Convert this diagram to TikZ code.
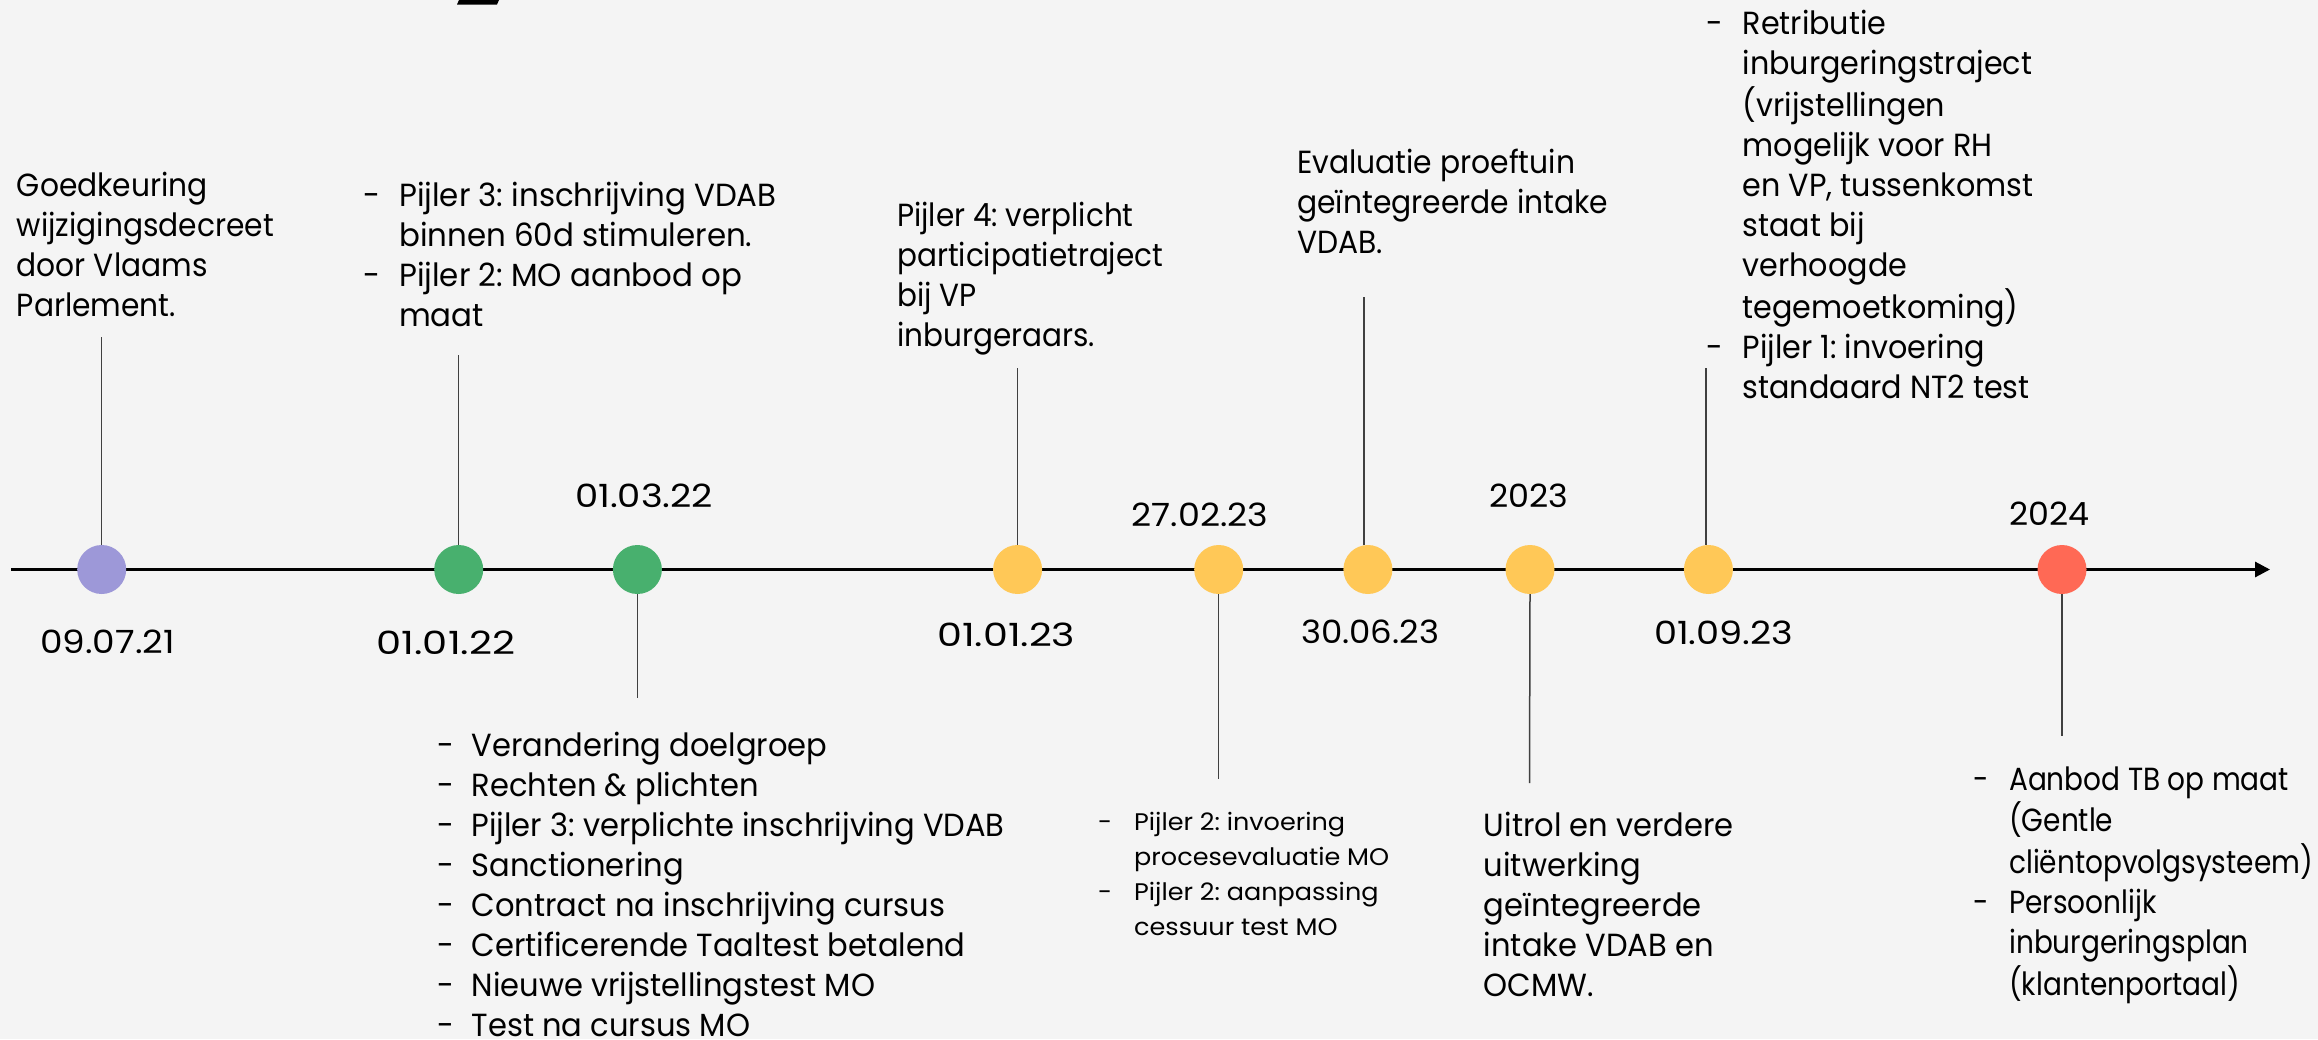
\documentclass[tikz,border=0pt]{standalone}
\usepackage{fontspec}
\usepackage{graphicx}
\setmainfont{Poppins}
\usetikzlibrary{arrows.meta}
\definecolor{bgc}{HTML}{F4F4F4}
\definecolor{cpurple}{HTML}{9D98D8}
\definecolor{cgreen}{HTML}{48B06E}
\definecolor{cyellow}{HTML}{FFC857}
\definecolor{cred}{HTML}{FF6955}
\newlength\natw
% fit block: optional dash gap, target width (px), reference line
\newcommand{\setsx}[3][36]{\settowidth{\natw}{#3}\pgfmathsetmacro{\sx}{#2/\natw}\pgfmathsetmacro{\dw}{#1/\sx}}
\newcommand{\dd}{\makebox[\dw pt][l]{-}}
\newcommand{\fitw}[2]{\settowidth{\natw}{#2}\pgfmathsetmacro{\sx}{#1/\natw}\scalebox{\sx}[1]{#2}}
\newcommand{\blk}[1]{\scalebox{\sx}[1]{\begin{tabular}[t]{@{}l@{}l@{}}#1\end{tabular}}}
\tikzset{
  dot/.style={circle, minimum size=49pt, inner sep=0pt, draw=none},
  txt/.style={anchor=base west, inner sep=0pt, font=\fontsize{32}{40}\selectfont},
  smalltxt/.style={txt, font=\fontsize{24}{35}\selectfont},
  conn/.style={draw=black!75, line width=1.5pt},
  axis/.style={draw=black, line width=3pt, -{Triangle[length=15pt,width=15pt]}}
}
\begin{document}
\frenchspacing
\begin{tikzpicture}[x=1pt,y=-1pt]
\fill[bgc] (0,0) rectangle (2318,1039);
\useasboundingbox (0,0) rectangle (2318,1039);
\fill[black] (457,4.5) -- (459,0) -- (499,0) -- (497,4.5) -- cycle;
% axis
\coordinate (axs) at (11,569.5);
\coordinate (axe) at (2270,569.5);
\draw[axis] (axs) -- (axe);
% dots
\node[dot, fill=cpurple] (c1) at (101.7,569.5) {};
\node[dot, fill=cgreen]  (c2) at (458.7,569.5) {};
\node[dot, fill=cgreen]  (c3) at (637.4,569.5) {};
\node[dot, fill=cyellow] (c4) at (1017.6,569.5) {};
\node[dot, fill=cyellow] (c5) at (1218.7,569.5) {};
\node[dot, fill=cyellow] (c6) at (1367.9,569.5) {};
\node[dot, fill=cyellow] (c7) at (1530,569.5) {};
\node[dot, fill=cyellow] (c8) at (1708.4,569.5) {};
\node[dot, fill=cred]    (c9) at (2062,569.5) {};
% connector ends
\coordinate (e1) at (101.7,337);
\coordinate (e2) at (458.7,355);
\coordinate (e3) at (637.4,698);
\coordinate (e4) at (1017.6,368);
\coordinate (e5) at (1218.7,779);
\coordinate (e6) at (1364,297);
\coordinate (e7) at (1529.5,783);
\coordinate (e8) at (1706,368);
\coordinate (e9) at (2062,736);
\draw[conn] (c1.north) -- (e1);
\draw[conn] (c2.north) -- (e2);
\draw[conn] (c3.south) -- (e3);
\draw[conn] (c4.north) -- (e4);
\draw[conn] (c5.south) -- (e5);
\draw[conn] (e6 |- c6.north) -- (e6);
\draw[conn] (c7.south) -- (e7);
\draw[conn] (e8 |- c8.north) -- (e8);
\draw[conn] (c9.south) -- (e9);
% dates
\node[txt] (d1) at (40,653) {\fitw{134.5}{09.07.21}};
\node[txt] (d2) at (376.5,654) {\fitw{138.5}{01.01.22}};
\node[txt] (d3) at (575,507) {\fitw{138}{01.03.22}};
\node[txt] (d4) at (937,646) {\fitw{138}{01.01.23}};
\node[txt] (d5) at (1131.6,526) {\fitw{136.5}{27.02.23}};
\node[txt] (d6) at (1301,643) {\fitw{138}{30.06.23}};
\node[txt] (d7) at (1489,507) {\fitw{79}{2023}};
\node[txt] (d8) at (1654,644) {\fitw{139}{01.09.23}};
\node[txt] (d9) at (2009,525) {\fitw{80}{2024}};
% texts
\node[txt] (tA) at (16.7,196) {\setsx{257}{wijzigingsdecreet}\blk{Goedkeuring\\wijzigingsdecreet\\door Vlaams\\Parlement.}};
\node[txt] (tB) at (363,206) {\setsx{377.5}{Pijler 3: inschrijving VDAB}\blk{\dd & Pijler 3: inschrijving VDAB\\ & binnen 60d stimuleren.\\ \dd & Pijler 2: MO aanbod op\\ & maat}};
\node[txt] (tC) at (437,756) {\setsx[34.4]{533}{Pijler 3: verplichte inschrijving VDAB}\blk{\dd & Verandering doelgroep\\ \dd & Rechten \& plichten\\ \dd & Pijler 3: verplichte inschrijving VDAB\\ \dd & Sanctionering\\ \dd & Contract na inschrijving cursus\\ \dd & Certificerende Taaltest betalend\\ \dd & Nieuwe vrijstellingstest MO\\ \dd & Test na cursus MO}};
\node[txt] (tD) at (897,226) {\setsx{266}{participatietraject}\blk{Pijler 4: verplicht\\participatietraject\\bij VP\\inburgeraars.}};
\node[txt] (tE) at (1297,173) {\setsx{278}{Evaluatie proeftuin}\blk{Evaluatie proeftuin\\geïntegreerde intake\\VDAB.}};
\node[smalltxt] (tF) at (1098,830) {\setsx{255}{procesevaluatie MO}\blk{\dd & Pijler 2: invoering\\ & procesevaluatie MO\\ \dd & Pijler 2: aanpassing\\ & cessuur test MO}};
\node[txt] (tG) at (1483.7,836) {\setsx{250}{Uitrol en verdere}\blk{Uitrol en verdere\\uitwerking\\geïntegreerde\\intake VDAB en\\OCMW.}};
\node[txt] (tH) at (1706.5,34.3) {\setsx{287}{standaard NT2 test}\blk{\dd & Retributie\\ & inburgeringstraject\\ & (vrijstellingen\\ & mogelijk voor RH\\ & en VP, tussenkomst\\ & staat bij\\ & verhoogde\\ & tegemoetkoming)\\ \dd & Pijler 1: invoering\\ & standaard NT2 test}};
\node[txt] (tI) at (1973,790) {\setsx{303.7}{cliëntopvolgsysteem)}\blk{\dd & Aanbod TB op maat\\ & (Gentle\\ & cliëntopvolgsysteem)\\ \dd & Persoonlijk\\ & inburgeringsplan\\ & (klantenportaal)}};
\end{tikzpicture}
\end{document}
